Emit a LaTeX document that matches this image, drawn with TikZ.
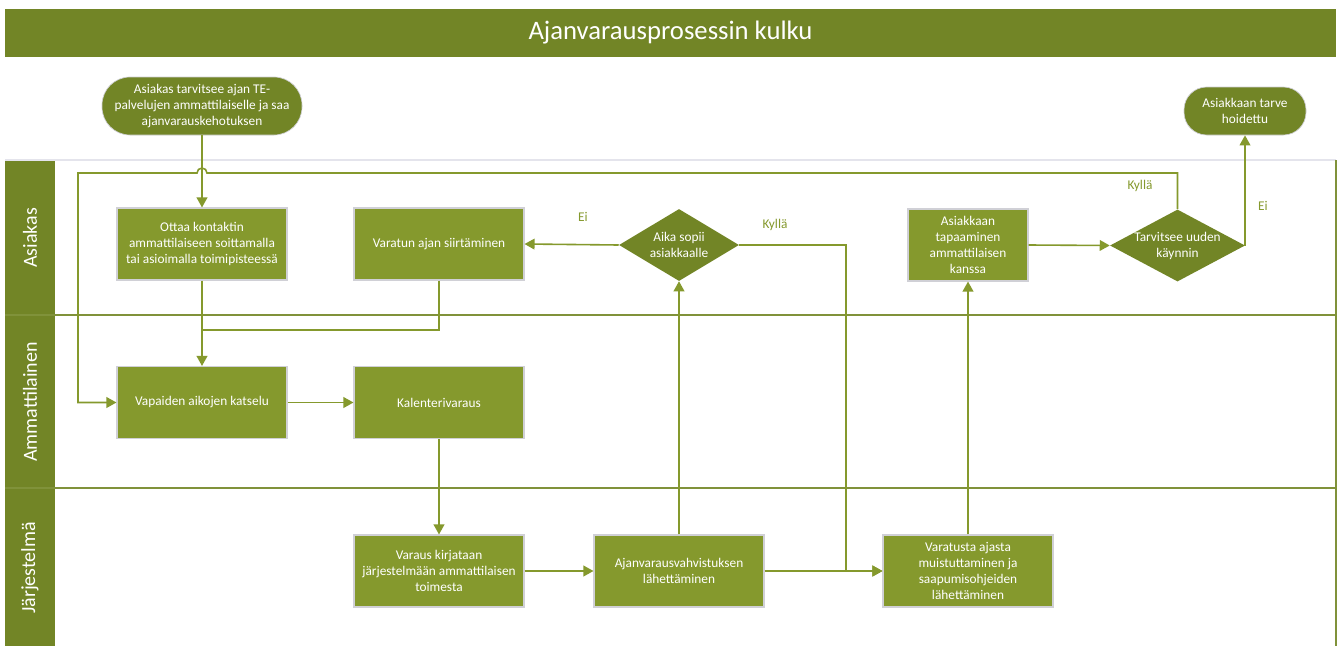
\documentclass[tikz,border=0pt]{standalone}
\usepackage{fontspec}
\setmainfont{Carlito}
\usetikzlibrary{shapes.geometric,arrows.meta,calc}
\definecolor{oliveDark}{RGB}{114,133,38}
\definecolor{oliveLight}{RGB}{133,153,45}
\definecolor{boxEdge}{RGB}{208,208,214}
\definecolor{laneLine}{RGB}{128,146,58}
\definecolor{topLine}{RGB}{228,228,236}
\begin{document}
\begin{tikzpicture}[x=0.75pt,y=-0.75pt,
  txt/.style={font=\fontsize{10pt}{12pt}\selectfont},
  proc/.style={txt, draw=boxEdge, line width=0.8pt, fill=oliveLight, text=white, align=center, inner sep=1pt, minimum height=54pt},
  term/.style={txt, draw=boxEdge, line width=0.5pt, fill=oliveDark, text=white, align=center, inner sep=1pt},
  dec/.style={diamond, fill=oliveDark, inner sep=0pt, minimum height=54pt},
  dectext/.style={txt, text=white, align=center},
  plainline/.style={draw=oliveLight, line width=1.2pt},
  conn/.style={plainline, -{Triangle[length=7.5pt,width=8pt]}},
  lbl/.style={txt, text=oliveLight},
  lanetxt/.style={text=white, rotate=90, font=\fontsize{15pt}{18pt}\selectfont},
  titletxt/.style={text=white, font=\fontsize{20pt}{24pt}\selectfont}
]
\useasboundingbox (0,0) rectangle (1341,646);
\fill[white] (0,0) rectangle (1341,646);

% title bar
\fill[oliveDark] (5,9) rectangle (1336,57);
\node[titletxt] (title) at (670.5,33) {Ajanvarausprosessin kulku};

% lanes
\fill[oliveDark] (5,160) rectangle (55,646);
\draw[topLine, line width=1pt] (5,160) -- (1336,160);
\draw[laneLine, line width=1.6pt] (5,315) -- (1336,315);
\draw[laneLine, line width=1.6pt] (5,488) -- (1336,488);
\draw[laneLine, line width=1.6pt] (1336,160) -- (1336,646);
\node[lanetxt] (laneA) at (30,238) {Asiakas};
\node[lanetxt] (laneB) at (30,402) {Ammattilainen};
\node[lanetxt] (laneC) at (30,568) {Järjestelmä};

% nodes
\node[term, minimum width=150pt, minimum height=43.5pt, rounded corners=21pt] (start) at (202,106)
  {Asiakas tarvitsee ajan TE-\\palvelujen ammattilaiselle ja saa\\ajanvarauskehotuksen};
\node[term, minimum width=91.5pt, minimum height=36pt, rounded corners=17pt] (endt) at (1245,111)
  {Asiakkaan tarve\\hoidettu};

\node[proc, minimum width=127.5pt] (ottaa) at (202,244)
  {Ottaa kontaktin\\ammattilaiseen soittamalla\\tai asioimalla toimipisteessä};
\node[proc, minimum width=127.5pt] (siir) at (439,244) {Varatun ajan siirtäminen};
\node[dec, minimum width=90pt] (d1) at (679,245) {};
\node[dectext] (d1t) at (d1) {Aika sopii\\asiakkaalle};
\node[proc, minimum width=90pt] (tap) at (968,245)
  {Asiakkaan\\tapaaminen\\ammattilaisen\\kanssa};
\node[dec, minimum width=101.25pt] (d2) at (1177.5,245.5) {};
\node[dectext] (d2t) at (d2) {Tarvitsee uuden\\käynnin};

\node[proc, minimum width=127.5pt] (vap) at (202,402.5) {Vapaiden aikojen katselu};
\node[proc, minimum width=127.5pt] (kal) at (439,402.5) {Kalenterivaraus};

\node[proc, minimum width=127.5pt] (kir) at (439,571)
  {Varaus kirjataan\\järjestelmään ammattilaisen\\toimesta};
\node[proc, minimum width=127.5pt] (vah) at (679,571)
  {Ajanvarausvahvistuksen\\lähettäminen};
\node[proc, minimum width=127.5pt] (mui) at (968,571)
  {Varatusta ajasta\\muistuttaminen ja\\saapumisohjeiden\\lähettäminen};

% helper coordinates
\coordinate (hopR) at (207,173);
\coordinate (loopL) at (78,173);
\coordinate (joinP) at (202,330);
\coordinate (kylX) at (846,400);

% connectors
\draw[conn] (start.south) -- (ottaa.north);
\draw[conn] (d2.north) |- (hopR) arc[start angle=0, end angle=180, radius=3.75pt] -- (loopL) |- (vap.west);
\draw[conn] (ottaa.south) -- (vap.north);
\draw[plainline] (siir.south) |- (joinP);
\draw[conn] (vap.east) -- (kal.west);
\draw[conn] (kal.south) -- (kir.north);
\draw[conn] (kir.east) -- (vah.west);
\draw[conn] (vah.north) -- (d1.south);
\draw[conn] (d1.west) -- (siir.east);
\draw[conn] (d1.east) -| (kylX) |- (mui.west);
\draw[conn] (vah.east) -- (mui.west);
\draw[conn] (mui.north) -- (tap.south);
\draw[conn] (tap.east) -- (d2.west);
\draw[conn] (d2.east) -| (endt.south);

% labels
\node[lbl] (ei1) at (583,217) {Ei};
\node[lbl] (ky1) at (775,225) {Kyllä};
\node[lbl] (ky2) at (1140,186) {Kyllä};
\node[lbl] (ei2) at (1263,206) {Ei};
\end{tikzpicture}
\end{document}
